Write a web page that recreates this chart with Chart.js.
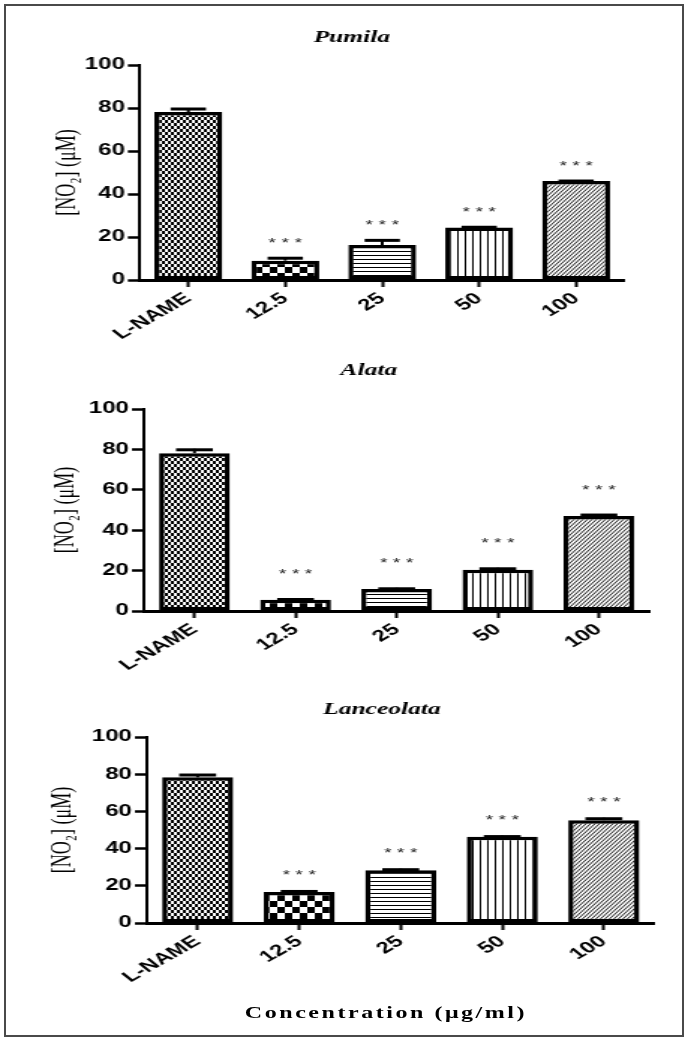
<!DOCTYPE html>
<html>
<head>
<meta charset="utf-8">
<script src="https://cdn.jsdelivr.net/npm/chart.js@4.4.1/dist/chart.umd.min.js"></script>
<style>
  body { margin: 0; background: #fff; width: 685px; height: 1041px; overflow: hidden; position: relative; }
  #frame { position: absolute; left: 4px; top: 4px; width: 676px; height: 1029px; border: 2px solid #4a4a4a; }
  /* the figure is drawn narrow and then stretched sideways, like the scanned original */
  #stage { position: absolute; left: 0; top: 0; width: 457px; height: 1041px; transform: scaleX(1.4989); transform-origin: 0 0; }
  #stage canvas { position: absolute; left: 0; }
  #xtitle { position: absolute; left: 0; top: 1003px; width: 515px; text-align: center; white-space: nowrap;
            font: bold 16px "Liberation Serif", serif; line-height: 20px; letter-spacing: 1.7px; color: #000; }
</style>
</head>
<body>
<div id="frame"></div>
<div id="stage">
  <canvas id="pumila" width="457" height="330" style="top:15px"></canvas>
  <canvas id="alata" width="457" height="330" style="top:350px"></canvas>
  <canvas id="lanceolata" width="457" height="320" style="top:685px"></canvas>
  <div id="xtitle">Concentration (μg/ml)</div>
</div>
<script>
const doses = ['L-NAME', '12.5', '25', '50', '100'];
const signif = ['', '***', '***', '***', '***'];

const pumilaMean = [78.1, 9.0, 16.3, 24.4, 46.0];
const pumilaSem = [1.9, 1.6, 2.6, 0.6, 0.5];

const alataMean = [78.1, 5.6, 10.9, 20.4, 47.0];
const alataSem = [2.2, 0.6, 0.6, 1.0, 1.0];

const lanceolataMean = [78.3, 16.6, 28.4, 46.4, 55.3];
const lanceolataSem = [1.8, 0.9, 0.8, 0.6, 1.3];

const yMin = 0, yMax = 100, yStep = 20;

function makeTile(w, h, draw) {
    const c = document.createElement('canvas');
    c.width = w;
    c.height = h;
    const g = c.getContext('2d');
    g.fillStyle = '#fff';
    g.fillRect(0, 0, w, h);
    g.fillStyle = '#000';
    g.strokeStyle = '#000';
    draw(g, w, h);
    return g.createPattern(c, 'repeat');
}

// one fill per dose, same order as doses
const fills = [
    makeTile(4, 6, g => { g.fillRect(0, 0, 2, 3); g.fillRect(2, 3, 2, 3); }),
    makeTile(10, 12, g => { g.fillRect(0, 0, 5, 6); g.fillRect(5, 6, 5, 6); }),
    makeTile(4, 4, g => g.fillRect(0, 0, 4, 1)),
    makeTile(5, 4, g => g.fillRect(0, 0, 1, 4)),
    makeTile(3, 4, (g, w, h) => {
        g.lineWidth = 0.9;
        for (let k = -1; k <= 1; k++) {
            g.beginPath();
            g.moveTo(k * w, h);
            g.lineTo(k * w + w, 0);
            g.stroke();
        }
    })
];

const errorBars = {
    id: 'errorBars',
    afterDatasetsDraw(chart, args, opts) {
        const ctx = chart.ctx;
        const y = chart.scales.y;
        const ds = chart.data.datasets[0];
        const meta = chart.getDatasetMeta(0);
        ctx.save();
        ctx.strokeStyle = '#000';
        meta.data.forEach((bar, i) => {
            const top = y.getPixelForValue(ds.data[i] + ds.sem[i]);
            const half = bar.width * 0.26;
            ctx.lineWidth = 2;
            ctx.beginPath();
            ctx.moveTo(bar.x, bar.y);
            ctx.lineTo(bar.x, top);
            ctx.stroke();
            ctx.lineWidth = 3;
            ctx.beginPath();
            ctx.moveTo(bar.x - half, top + 1);
            ctx.lineTo(bar.x + half, top + 1);
            ctx.stroke();
            if (ds.stars[i]) {
                ctx.fillStyle = '#222';
                ctx.font = '13px "Liberation Sans", Arial';
                ctx.textAlign = 'center';
                ctx.textBaseline = 'middle';
                ctx.fillText(ds.stars[i].split('').join(' '), bar.x, top - opts.gap);
            }
        });
        ctx.restore();
    }
};

const panelTitle = {
    id: 'panelTitle',
    afterDraw(chart, args, opts) {
        const ctx = chart.ctx;
        ctx.save();
        ctx.fillStyle = '#000';
        ctx.font = 'italic bold 17px "Liberation Serif", serif';
        ctx.textAlign = 'center';
        ctx.textBaseline = 'middle';
        ctx.fillText(opts.text, opts.x, opts.y);
        ctx.restore();
    }
};

const tickFont = { family: '"Liberation Sans", Arial', weight: 'bold', size: 16 };

function drawPanel(id, title, mean, sem, look) {
    new Chart(document.getElementById(id), {
        type: 'bar',
        data: {
            labels: doses,
            datasets: [{
                data: mean,
                sem: sem,
                stars: signif,
                backgroundColor: fills,
                borderColor: '#000',
                borderWidth: 3.5,
                borderSkipped: false,
                barPercentage: 0.7,
                categoryPercentage: 1
            }]
        },
        options: {
            responsive: false,
            animation: false,
            devicePixelRatio: 1,
            layout: { padding: { top: look.top, right: look.right, left: 0, bottom: 0 } },
            plugins: {
                legend: { display: false },
                tooltip: { enabled: false },
                panelTitle: { text: title, x: look.titleX, y: look.titleY },
                errorBars: { gap: look.starGap }
            },
            scales: {
                x: {
                    offset: true,
                    grid: { display: true, offset: false, drawOnChartArea: false, tickLength: 7, tickWidth: 2, tickColor: '#000' },
                    border: { display: true, color: '#000', width: 3 },
                    ticks: { color: '#000', font: tickFont, minRotation: 40, maxRotation: 40, padding: 2, autoSkip: false },
                    afterFit: s => { s.height = look.xHeight; }
                },
                y: {
                    min: yMin,
                    max: yMax,
                    ticks: { stepSize: yStep, color: '#000', font: tickFont, padding: 2 },
                    grid: { drawOnChartArea: false, tickLength: 8, tickWidth: 2.5, tickColor: '#000' },
                    border: { display: true, color: '#000', width: 2 },
                    title: {
                        display: true,
                        text: '[NO₂] (μM)',
                        color: '#000',
                        font: { family: '"Liberation Serif", serif', size: 18 },
                        padding: { top: look.yTitlePad, bottom: 0 }
                    },
                    afterFit: s => { s.width = look.left; }
                }
            }
        },
        plugins: [errorBars, panelTitle]
    });
}

drawPanel('pumila', 'Pumila', pumilaMean, pumilaSem,
    { top: 50, right: 40.3, left: 93.3, xHeight: 65, titleX: 234.7, titleY: 23, yTitlePad: 34, starGap: 14 });
drawPanel('alata', 'Alata', alataMean, alataSem,
    { top: 59, right: 23.7, left: 96, xHeight: 69, titleX: 246, titleY: 21, yTitlePad: 33, starGap: 24 });
drawPanel('lanceolata', 'Lanceolata', lanceolataMean, lanceolataSem,
    { top: 52, right: 20.3, left: 98, xHeight: 82, titleX: 254.7, titleY: 25, yTitlePad: 31, starGap: 15 });
</script>
</body>
</html>
